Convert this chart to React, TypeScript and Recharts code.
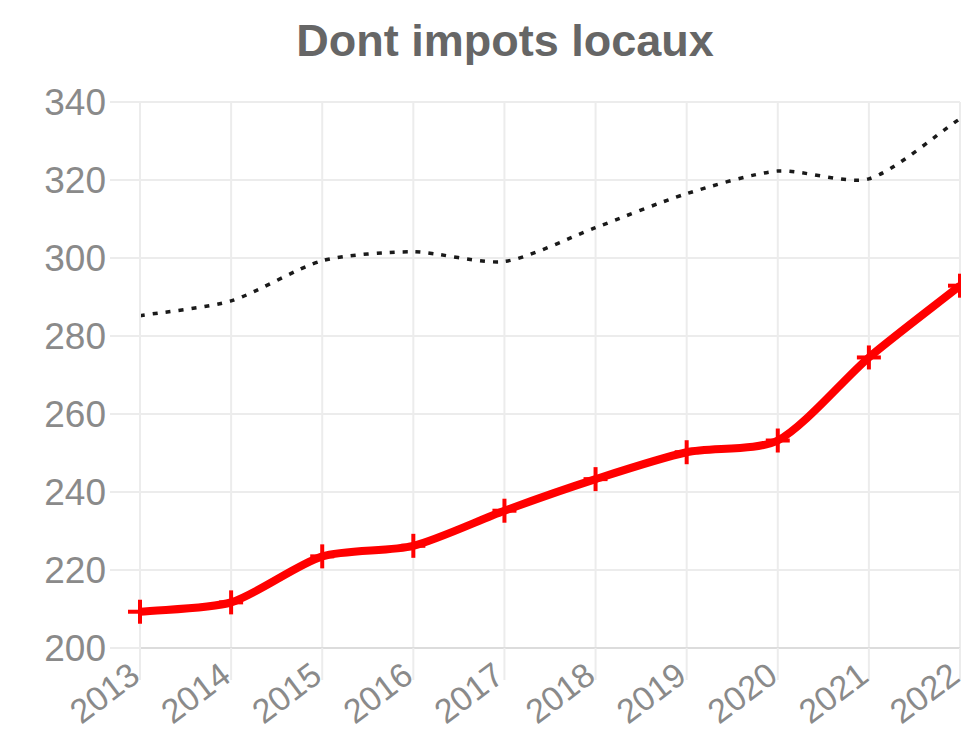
import { LineChart, Line, XAxis, YAxis, CartesianGrid } from 'recharts';

const years = ['2013', '2014', '2015', '2016', '2017', '2018', '2019', '2020', '2021', '2022'];
const impotsLocaux = [209.3, 211.7, 223.5, 226.2, 235.2, 243.3, 250.2, 253.2, 274.5, 292.9];
const reference = [285.2, 289.0, 299.3, 301.6, 299.1, 307.8, 316.5, 322.3, 320.3, 335.7];
const yTicks = [200, 220, 240, 260, 280, 300, 320, 340];

const chartData = years.map((year, i) => ({
  year,
  impots: impotsLocaux[i],
  ref: reference[i],
}));

const FONT = "'Liberation Sans', Arial, sans-serif";
const GRID = '#ececec';

// low-tension bezier like chart.js (splineCurve)
const tensionCurve = (t: number) => (context: any) => {
  let pts: number[][] = [];
  return {
    areaStart() {},
    areaEnd() {},
    lineStart() {
      pts = [];
    },
    point(x: number, y: number) {
      pts.push([+x, +y]);
    },
    lineEnd() {
      if (!pts.length) return;
      const cps = pts.map((cur, i) => {
        const prev = pts[i - 1] || cur;
        const next = pts[i + 1] || cur;
        const d01 = Math.hypot(cur[0] - prev[0], cur[1] - prev[1]);
        const d12 = Math.hypot(next[0] - cur[0], next[1] - cur[1]);
        const sum = d01 + d12 || 1;
        const fa = (t * d01) / sum;
        const fb = (t * d12) / sum;
        return {
          prev: [cur[0] - fa * (next[0] - prev[0]), cur[1] - fa * (next[1] - prev[1])],
          next: [cur[0] + fb * (next[0] - prev[0]), cur[1] + fb * (next[1] - prev[1])],
        };
      });
      context.moveTo(pts[0][0], pts[0][1]);
      for (let i = 1; i < pts.length; i++) {
        const a = cps[i - 1].next;
        const b = cps[i].prev;
        context.bezierCurveTo(a[0], a[1], b[0], b[1], pts[i][0], pts[i][1]);
      }
    },
  };
};

const curve = tensionCurve(0.25);

// chart.js style "cross" point
const CrossDot = (props: any) => {
  const { cx, cy, index } = props;
  if (cx == null || cy == null) return null;
  const r = 12;
  return (
    <g key={`cross-${index}`}>
      <line x1={cx - r} y1={cy} x2={cx + r} y2={cy} stroke="#ff0000" strokeWidth={4} />
      <line x1={cx} y1={cy - r} x2={cx} y2={cy + r} stroke="#ff0000" strokeWidth={4} />
    </g>
  );
};

const RotatedTick = (props: any) => {
  const { x, y, payload } = props;
  return (
    <text
      transform={`translate(${x - 13}, ${y - 22}) rotate(-37)`}
      textAnchor="end"
      dy="0.72em"
      fill="#8a8a8a"
      fontSize={34}
      fontFamily={FONT}
    >
      {payload.value}
    </text>
  );
};

export default function App() {
  return (
    <div style={{ position: 'absolute', left: 0, top: 0, width: 961, height: 735, background: '#fff' }}>
      <LineChart width={961} height={735} data={chartData} margin={{ top: 102, right: 1, left: 0, bottom: 0 }}>
        <text x={505} y={56} textAnchor="middle" fontSize={45} fontWeight="bold" fill="#666" fontFamily={FONT}>
          Dont impots locaux
        </text>
        <CartesianGrid stroke={GRID} strokeWidth={2} />
        <XAxis
          dataKey="year"
          height={87}
          interval={0}
          axisLine={{ stroke: '#dcdcdc', strokeWidth: 2 }}
          tickLine={{ stroke: GRID, strokeWidth: 2 }}
          tickSize={32}
          tick={<RotatedTick />}
        />
        <YAxis
          width={140}
          domain={[200, 340]}
          ticks={yTicks}
          interval={0}
          axisLine={{ stroke: GRID, strokeWidth: 2 }}
          tickLine={{ stroke: GRID, strokeWidth: 2 }}
          tickSize={30}
          tickMargin={4}
          tick={{ fill: '#8a8a8a', fontSize: 37, fontFamily: FONT }}
        />
        <Line
          type={curve as any}
          dataKey="ref"
          stroke="#1a1a1a"
          strokeWidth={3.5}
          strokeDasharray="5 8"
          dot={false}
          isAnimationActive={false}
        />
        <Line
          type={curve as any}
          dataKey="impots"
          stroke="#ff0000"
          strokeWidth={8}
          dot={<CrossDot />}
          isAnimationActive={false}
        />
      </LineChart>
    </div>
  );
}
